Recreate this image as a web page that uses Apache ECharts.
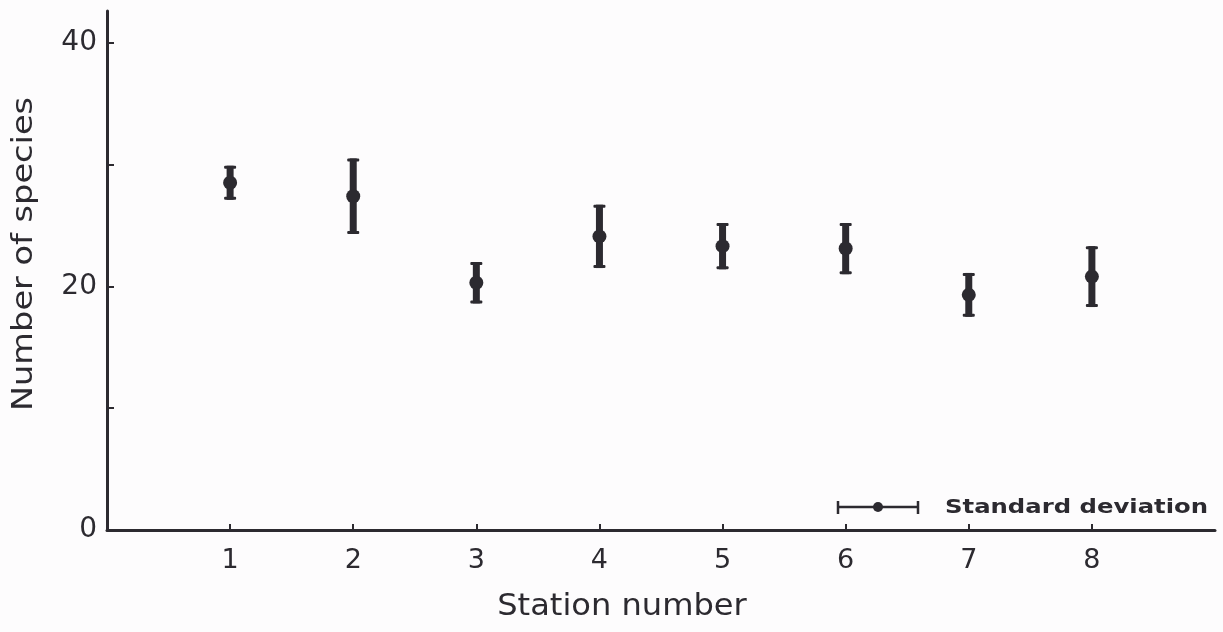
<!DOCTYPE html>
<html>
<head>
<meta charset="utf-8">
<script src="https://cdn.jsdelivr.net/npm/echarts@6/dist/echarts.min.js"></script>
<style>
  html, body { margin: 0; padding: 0; background: #fdfcfd; }
  #chart { width: 1223px; height: 632px; }
</style>
</head>
<body>
<div id="chart"></div>
<script>
// Species counts per sampling station: mean and standard deviation
const stations = [1, 2, 3, 4, 5, 6, 7, 8];
const meanSpecies = [28.5, 27.4, 20.3, 24.1, 23.3, 23.1, 19.3, 20.8];
const sdSpecies = [1.4, 3.1, 1.7, 2.6, 1.9, 2.1, 1.8, 2.5];
const yTickValues = [10, 20, 30, 40];
const yLabelValues = [0, 20, 40];

const ink = '#2c2a30';
const font = 'DejaVu Sans';

const chart = echarts.init(document.getElementById('chart'), null, { renderer: 'canvas' });

const errData = stations.map((s, i) => [s, meanSpecies[i], sdSpecies[i]]);

// Vertical error bar with end caps and a dot at the mean
function renderErrorBar(params, api) {
  const x = api.value(0), m = api.value(1), sd = api.value(2);
  const top = api.coord([x, m + sd]);
  const bot = api.coord([x, m - sd]);
  const mid = api.coord([x, m]);
  const bodyW = 7, capW = 12, capH = 3;
  return {
    type: 'group',
    children: [
      { type: 'rect', shape: { x: top[0] - bodyW / 2, y: top[1], width: bodyW, height: bot[1] - top[1] },
        style: { fill: ink } },
      { type: 'rect', shape: { x: top[0] - capW / 2, y: top[1], width: capW, height: capH, r: 1 },
        style: { fill: ink } },
      { type: 'rect', shape: { x: bot[0] - capW / 2, y: bot[1] - capH, width: capW, height: capH, r: 1 },
        style: { fill: ink } },
      { type: 'circle', shape: { cx: mid[0], cy: mid[1], r: 7 }, style: { fill: ink } }
    ]
  };
}

chart.setOption({
  animation: false,
  backgroundColor: '#fdfcfd',
  grid: { left: 107, right: 8, top: 11, bottom: 102 },
  xAxis: {
    type: 'value', min: 0, max: 9, interval: 1,
    axisLine: { lineStyle: { color: ink, width: 3 } },
    axisTick: { inside: true, length: 6, customValues: stations, lineStyle: { color: ink, width: 2 } },
    axisLabel: { customValues: stations, margin: 17, fontFamily: font, fontSize: 27, color: ink },
    splitLine: { show: false }
  },
  yAxis: {
    type: 'value', min: 0, max: 42.6, interval: 10,
    axisLine: { show: true, lineStyle: { color: ink, width: 3 } },
    axisTick: { show: true, inside: true, length: 7, customValues: yTickValues, lineStyle: { color: ink, width: 2 } },
    axisLabel: { customValues: yLabelValues, margin: 10, fontFamily: font, fontSize: 28, color: ink },
    splitLine: { show: false }
  },
  series: [{
    type: 'custom',
    name: 'Standard deviation',
    renderItem: renderErrorBar,
    encode: { x: 0, y: 1 },
    data: errData,
    z: 3
  }],
  graphic: [
    // axis titles
    { type: 'text', x: 622, y: 607, scaleX: 1.07,
      style: { text: 'Station number', font: '30px "DejaVu Sans"', fill: ink, align: 'center', verticalAlign: 'middle' } },
    { type: 'text', x: 25, y: 254, rotation: Math.PI / 2, scaleX: 1.2,
      style: { text: 'Number of species', font: '28px "DejaVu Sans"', fill: ink, align: 'center', verticalAlign: 'middle' } },
    // legend key: horizontal error bar and label
    { type: 'group', children: [
      { type: 'line', shape: { x1: 838, y1: 507, x2: 918, y2: 507 }, style: { stroke: ink, lineWidth: 2.5 } },
      { type: 'line', shape: { x1: 838, y1: 501, x2: 838, y2: 514 }, style: { stroke: ink, lineWidth: 2.5 } },
      { type: 'line', shape: { x1: 918, y1: 501, x2: 918, y2: 514 }, style: { stroke: ink, lineWidth: 2.5 } },
      { type: 'circle', shape: { cx: 878, cy: 507, r: 5 }, style: { fill: ink } }
    ] },
    { type: 'text', x: 945, y: 508, scaleX: 1.28,
      style: { text: 'Standard deviation', font: 'bold 19px "DejaVu Sans"', fill: ink, align: 'left', verticalAlign: 'middle' } }
  ]
});
</script>
</body>
</html>
